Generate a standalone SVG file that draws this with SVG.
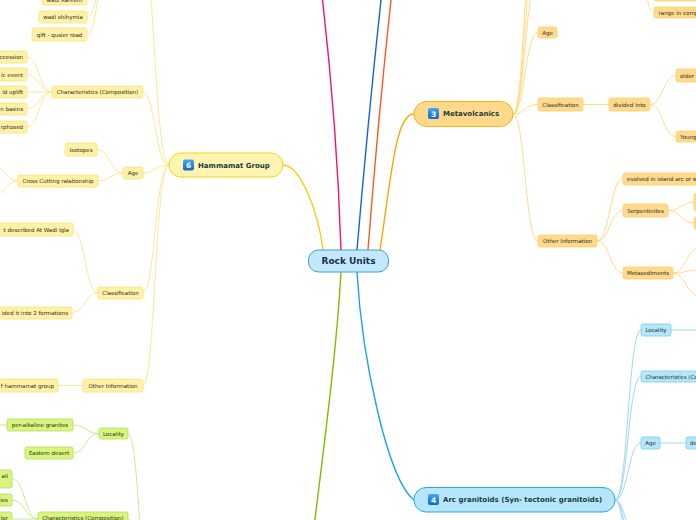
<svg xmlns="http://www.w3.org/2000/svg" width="696" height="520" viewBox="0 0 696 520">
<style>
  .t{font-family:"DejaVu Sans","Liberation Sans",sans-serif;font-size:5.5px;fill:#2b2b22}
  .m{text-anchor:middle}
  .e{text-anchor:end}
  .mt{font-family:"DejaVu Sans","Liberation Sans",sans-serif;font-size:7px;font-weight:bold;fill:#1b3a3e}
  .ic{font-family:"DejaVu Sans","Liberation Sans",sans-serif;font-size:7.5px;font-weight:bold;fill:#fff;text-anchor:middle}
  .y rect{fill:#fff2a6;stroke:#f6e27c;stroke-width:0.8}
  .o rect{fill:#ffda8c;stroke:#ffcf6a;stroke-width:0.8}
  .b rect{fill:#b5e6fb;stroke:#78cdf2;stroke-width:0.8}
  .g rect{fill:#d8f57e;stroke:#b3de5c;stroke-width:0.8}
  .cy{fill:none;stroke:#f9e68c;stroke-width:0.9}
  .co{fill:none;stroke:#ffd77a;stroke-width:0.9}
  .cb{fill:none;stroke:#8ed5f4;stroke-width:0.9}
  .cg{fill:none;stroke:#c8e38e;stroke-width:0.9}
  .mc{fill:none;stroke-width:1.4}
</style>
<defs>
  <linearGradient id="icg" x1="0" y1="0" x2="0" y2="1">
    <stop offset="0" stop-color="#45a8f2"/>
    <stop offset="1" stop-color="#0f68cf"/>
  </linearGradient>
</defs>
<rect width="696" height="520" fill="#ffffff"/>

<g id="connectors">
  <path class="mc" stroke="#f0146e" d="M341,250 Q337,125 322,-5"/>
  <path class="mc" stroke="#1a5fd6" d="M357,250 Q368,120 381,0"/>
  <path class="mc" stroke="#ff5722" d="M368,250 Q378,120 391,0"/>
  <path class="mc" stroke="#f2d012" d="M283,165 C300,165 318,210 323,250"/>
  <path class="mc" stroke="#f7a800" d="M380,250 C392,170 396,114 414,114"/>
  <path class="mc" stroke="#1da1e6" d="M357,272 C362,360 388,480 414,500"/>
  <path class="mc" stroke="#7cbf00" d="M341,272 C336,360 322,460 310,560"/>

  <path class="cy" d="M169,165 C155,165 155,-40 143,-40"/>
  <path class="cy" d="M169,165 C155,165 155,92 143,92"/>
  <path class="cy" d="M169,165 C155,165 155,173 143,173"/>
  <path class="cy" d="M169,165 C155,165 155,292.5 143,292.5"/>
  <path class="cy" d="M169,165 C155,165 155,385.5 143,385.5"/>
  <path class="cy" d="M110,-40 C98,-40 98,-1 87,-1"/>
  <path class="cy" d="M110,-40 C98,-40 98,17 87,17"/>
  <path class="cy" d="M110,-40 C98,-40 98,34.5 87,34.5"/>
  <path class="cy" d="M52,92 C39,92 39,57 27,57"/>
  <path class="cy" d="M52,92 C39,92 39,74.5 27,74.5"/>
  <path class="cy" d="M52,92 L27,92"/>
  <path class="cy" d="M52,92 C39,92 39,109 27,109"/>
  <path class="cy" d="M52,92 C39,92 39,127 27,127"/>
  <path class="cy" d="M123,173 C110,173 110,149.5 97,149.5"/>
  <path class="cy" d="M123,173 C110,173 110,181 98,181"/>
  <path class="cy" d="M18,181 C6,181 6,167 -8,167"/>
  <path class="cy" d="M18,181 C6,181 6,195 -8,195"/>
  <path class="cy" d="M98,292.5 C85,292.5 85,229.5 73,229.5"/>
  <path class="cy" d="M98,292.5 C85,292.5 85,312.5 72,312.5"/>
  <path class="cy" d="M83,385.5 L58,385.5"/>

  <path class="co" d="M513,114 C525,114 525,-20 538,-20"/>
  <path class="co" d="M513,114 C525,114 525,-60 538,-60"/>
  <path class="co" d="M513,114 C525,114 525,-110 538,-110"/>
  <path class="co" d="M513,114 C525,114 525,32.5 538,32.5"/>
  <path class="co" d="M513,114 C525,114 525,104.5 538,104.5"/>
  <path class="co" d="M513,114 C525,114 525,241 538,241"/>
  <path class="co" d="M583,104.5 L609,104.5"/>
  <path class="co" d="M650,104.5 C663,104.5 663,75.5 676,75.5"/>
  <path class="co" d="M650,104.5 C663,104.5 663,136.5 676,136.5"/>
  <path class="co" d="M640,-30 C647,-30 645,12.5 654,12.5"/>
  <path class="co" d="M640,-30 C647,-30 645,-5 654,-5"/>
  <path class="co" d="M597,241 C610,241 610,179 623,179"/>
  <path class="co" d="M597,241 C610,241 610,210.5 623,210.5"/>
  <path class="co" d="M597,241 C610,241 610,273 623,273"/>
  <path class="co" d="M668,210.5 C681,210.5 681,202 694,202"/>
  <path class="co" d="M668,210.5 C681,210.5 681,223 694,223"/>
  <path class="co" d="M673,273 C686,273 686,248 700,248"/>
  <path class="co" d="M673,273 C686,273 686,270 700,270"/>
  <path class="co" d="M673,273 C686,273 686,296 700,296"/>

  <path class="cb" d="M615,500 C628,500 628,330 641,330"/>
  <path class="cb" d="M615,500 C628,500 628,376.5 641,376.5"/>
  <path class="cb" d="M615,500 C628,500 628,443 641,443"/>
  <path class="cb" d="M615,500 C628,500 628,560 641,560"/>
  <path class="cb" d="M615,500 C628,500 628,600 641,600"/>
  <path class="cb" d="M615,500 C628,500 628,650 641,650"/>
  <path class="cb" d="M671,330 L700,330"/>
  <path class="cb" d="M660,443 L686,443"/>

  <path class="cg" d="M150,590 C139,590 139,433.5 128,433.5"/>
  <path class="cg" d="M150,590 C139,590 139,519 128,519"/>
  <path class="cg" d="M99,433.5 C86,433.5 86,425 73,425"/>
  <path class="cg" d="M99,433.5 C86,433.5 86,453 73,453"/>
  <path class="cg" d="M7,425 L-5,425"/>
  <path class="cg" d="M38,519 C25,519 25,479 12,479"/>
  <path class="cg" d="M38,519 C25,519 25,500 12,500"/>
  <path class="cg" d="M38,519 L12,519"/>
</g>

<g id="rock-units">
  <rect x="308.5" y="250" width="80" height="22" rx="10" fill="#c3e8fb" stroke="#3d9ed9" stroke-width="1"/>
  <text x="348.5" y="264.2" font-family="DejaVu Sans, Liberation Sans, sans-serif" font-size="9" font-weight="bold" fill="#17304f" text-anchor="middle">Rock Units</text>
</g>

<g id="hammamat-group">
  <rect x="169" y="153" width="114" height="24" rx="12" fill="#fff5b0" stroke="#f2d515" stroke-width="1"/>
  <rect x="183" y="159.5" width="11" height="11" rx="2" fill="url(#icg)"/>
  <text class="ic" x="188.5" y="168">6</text>
  <text class="mt" x="198" y="167.5">Hammamat Group</text>
</g>
<g id="metavolcanics">
  <rect x="414" y="101.5" width="99" height="25" rx="12.5" fill="#ffd98a" stroke="#f5b21a" stroke-width="1"/>
  <rect x="428" y="108" width="11" height="11" rx="2" fill="url(#icg)"/>
  <text class="ic" x="433.5" y="116.5">3</text>
  <text class="mt" x="443" y="116.3">Metavolcanics</text>
</g>
<g id="arc-granitoids">
  <rect x="414" y="487.5" width="201" height="24.5" rx="12" fill="#b5e6fb" stroke="#2aa7e4" stroke-width="1"/>
  <rect x="428" y="494" width="11" height="11" rx="2" fill="url(#icg)"/>
  <text class="ic" x="433.5" y="502.5">4</text>
  <text class="mt" x="443" y="502.3">Arc granitoids (Syn- tectonic granitoids)</text>
</g>

<g id="h-wadi-kareem" class="y"><rect x="42" y="-7" width="45" height="12" rx="2"/><text class="t m" x="64.5" y="1.5">wadi Kareem</text></g>
<g id="h-wadi-shihymia" class="y"><rect x="39" y="11" width="48" height="12" rx="2"/><text class="t m" x="63" y="19">wadi shihymia</text></g>
<g id="h-qift" class="y"><rect x="32" y="28" width="55" height="13" rx="2"/><text class="t m" x="59.5" y="36.5">qift - qusier road</text></g>
<g id="h-c1" class="y"><rect x="-30" y="51" width="57" height="12" rx="2"/><text class="t e" x="23" y="59">ccession</text></g>
<g id="h-c2" class="y"><rect x="-30" y="68" width="57" height="13" rx="2"/><text class="t e" x="23" y="76.5">ic event</text></g>
<g id="h-c3" class="y"><rect x="-30" y="86" width="57" height="12" rx="2"/><text class="t e" x="23" y="94">id uplift</text></g>
<g id="h-c4" class="y"><rect x="-30" y="103" width="57" height="12" rx="2"/><text class="t e" x="23" y="111">n basins</text></g>
<g id="h-c5" class="y"><rect x="-30" y="121" width="57" height="12" rx="2"/><text class="t e" x="23" y="129">rphosed</text></g>
<g id="h-characteristics" class="y"><rect x="52" y="86" width="91" height="12" rx="2"/><text class="t m" x="97.5" y="94">Characteristics (Composition)</text></g>
<g id="h-isotopes" class="y"><rect x="65" y="143" width="32" height="13" rx="2"/><text class="t m" x="81" y="151.5">Isotopes</text></g>
<g id="h-age" class="y"><rect x="123" y="167" width="20" height="12" rx="2"/><text class="t m" x="133" y="175">Age</text></g>
<g id="h-cross" class="y"><rect x="18" y="175" width="80" height="12" rx="2"/><text class="t m" x="58" y="183">Cross Cutting ralationship</text></g>
<g id="h-igla" class="y"><rect x="-40" y="223" width="113" height="13" rx="2"/><text class="t e" x="69" y="231.5">t described At Wadi Igla</text></g>
<g id="h-classification" class="y"><rect x="98" y="287" width="45" height="12" rx="2"/><text class="t m" x="120.5" y="295">Classification</text></g>
<g id="h-formations" class="y"><rect x="-40" y="307" width="112" height="12" rx="2"/><text class="t e" x="68" y="315">ided it into 2 formations</text></g>
<g id="h-other" class="y"><rect x="83" y="379" width="60" height="13" rx="2"/><text class="t m" x="113" y="387.5">Other Information</text></g>
<g id="h-group" class="y"><rect x="-40" y="379" width="98" height="13" rx="2"/><text class="t e" x="54" y="387.5">f hammamat group</text></g>

<g id="m-top" class="o"><rect x="654" y="-11" width="60" height="12" rx="2"/></g>
<g id="m-range" class="o"><rect x="654" y="7" width="60" height="11" rx="2"/><text class="t" x="658.5" y="14.5">range in comp</text></g>
<g id="m-age" class="o"><rect x="538" y="27" width="19" height="11" rx="2"/><text class="t m" x="547.5" y="34.5">Age</text></g>
<g id="m-classification" class="o"><rect x="538" y="98" width="45" height="13" rx="2"/><text class="t m" x="560.5" y="106.5">Classification</text></g>
<g id="m-divided" class="o"><rect x="609" y="98" width="41" height="13" rx="2"/><text class="t m" x="629.5" y="106.5">divided into</text></g>
<g id="m-older" class="o"><rect x="676" y="69" width="40" height="13" rx="2"/><text class="t" x="680" y="77.5">older</text></g>
<g id="m-young" class="o"><rect x="676" y="131" width="40" height="11" rx="2"/><text class="t" x="680" y="138.5">Young</text></g>
<g id="m-other" class="o"><rect x="538" y="235" width="59" height="12" rx="2"/><text class="t m" x="567.5" y="243">Other Information</text></g>
<g id="m-evolved" class="o"><rect x="623" y="173" width="80" height="12" rx="2"/><text class="t" x="627" y="181">evolved in island arc or w</text></g>
<g id="m-serpentinites" class="o"><rect x="623" y="204" width="45" height="13" rx="2"/><text class="t m" x="645.5" y="212.5">Serpentinites</text></g>
<g id="m-s1" class="o"><rect x="694" y="193" width="30" height="18" rx="2"/></g>
<g id="m-s2" class="o"><rect x="694" y="217" width="30" height="12" rx="2"/></g>
<g id="m-metasediments" class="o"><rect x="623" y="267" width="50" height="12" rx="2"/><text class="t m" x="648" y="275">Metasediments</text></g>

<g id="a-locality" class="b"><rect x="641" y="324" width="30" height="12" rx="2"/><text class="t m" x="656" y="332">Locality</text></g>
<g id="a-characteristics" class="b"><rect x="641" y="371" width="70" height="11" rx="2"/><text class="t" x="645.5" y="378.5">Characteristics (Co</text></g>
<g id="a-age" class="b"><rect x="641" y="437" width="19" height="12" rx="2"/><text class="t m" x="650.5" y="445">Age</text></g>
<g id="a-de" class="b"><rect x="686" y="437" width="30" height="12" rx="2"/><text class="t" x="690" y="445">de</text></g>

<g id="g-locality" class="g"><rect x="99" y="428" width="29" height="11" rx="2"/><text class="t m" x="113.5" y="435.5">Locality</text></g>
<g id="g-peralkaline" class="g"><rect x="7" y="419" width="66" height="12" rx="2"/><text class="t m" x="40" y="427">per-alkaline granites</text></g>
<g id="g-eastern" class="g"><rect x="25" y="447" width="48" height="12" rx="2"/><text class="t m" x="49" y="455">Eastern desert</text></g>
<g id="g-ali" class="g"><rect x="-30" y="470" width="42" height="18" rx="2"/><text class="t e" x="8" y="478">ali</text></g>
<g id="g-cies" class="g"><rect x="-30" y="494" width="42" height="12" rx="2"/><text class="t e" x="8" y="502">cies</text></g>
<g id="g-lor" class="g"><rect x="-30" y="512" width="42" height="14" rx="2"/><text class="t e" x="8" y="520">lor</text></g>
<g id="g-characteristics" class="g"><rect x="38" y="512" width="90" height="14" rx="2"/><text class="t m" x="83" y="520">Characteristics (Composition)</text></g>
</svg>
